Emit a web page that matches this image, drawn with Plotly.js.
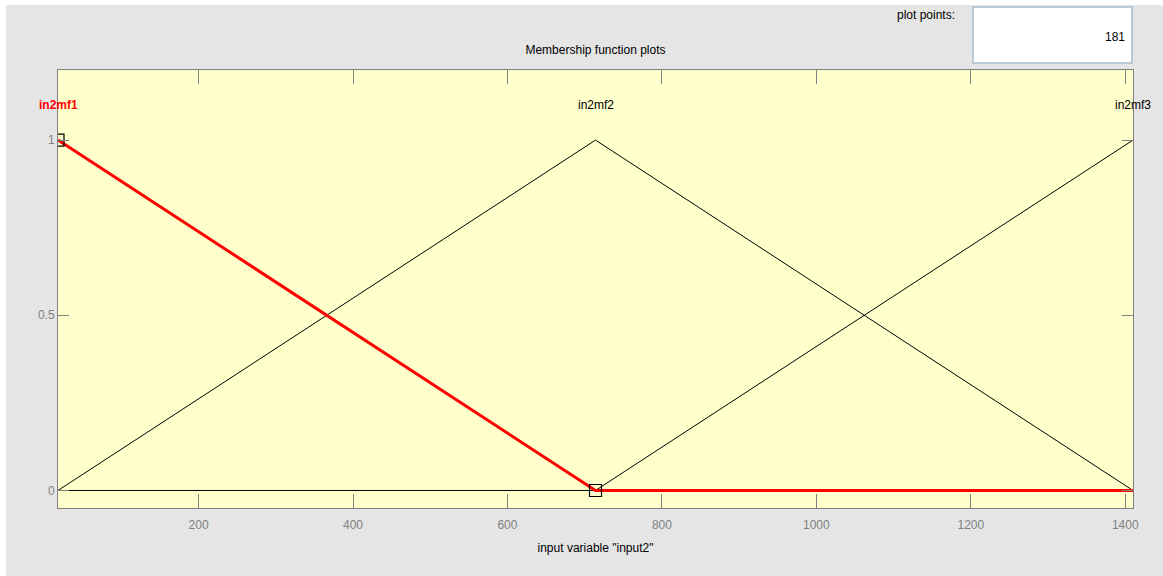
<!DOCTYPE html>
<html>
<head>
<meta charset="utf-8">
<script src="https://cdn.plot.ly/plotly-3.0.1.min.js"></script>
<style>
html,body{margin:0;padding:0;background:#ffffff;width:1163px;height:576px;overflow:hidden;}
#chart{position:absolute;left:6px;top:5px;width:1157px;height:571px;}
</style>
</head>
<body>
<div id="chart"></div>
<script>
// Data
const breakpoints = [18, 714, 1410];
const mfNames = ["in2mf1", "in2mf2", "in2mf3"];
const mf1 = [1, 0, 0];
const mf2 = [0, 1, 0];
const mf3 = [0, 0, 1];
const mfCenters = [18, 714, 1410];
const selectedParamX = [18, 714];
const selectedParamY = [1, 0];
const plotPoints = "181";
const xTicks = [200, 400, 600, 800, 1000, 1200, 1400];
const yTicks = [0, 0.5, 1];

const traces = [
  {x: breakpoints, y: mf2, mode: "lines", line: {color: "#000000", width: 1}, hoverinfo: "skip"},
  {x: breakpoints, y: mf3, mode: "lines", line: {color: "#000000", width: 1}, hoverinfo: "skip"},
  {x: breakpoints, y: mf1, mode: "lines", line: {color: "#ff0000", width: 3}, hoverinfo: "skip"},
  {x: selectedParamX, y: selectedParamY, mode: "markers",
   marker: {symbol: "square-open", size: 12, color: "#000000", line: {width: 1.2, color: "#000000"}},
   cliponaxis: true, hoverinfo: "skip"}
];

const annotations = mfNames.map((n, i) => ({
  x: mfCenters[i], y: 1.1, xref: "x", yref: "y", text: n, showarrow: false,
  font: {family: "Liberation Sans, Arial, sans-serif", size: 12, color: i === 0 ? "#ff0000" : "#000000", weight: i === 0 ? "bold" : "normal"},
  xanchor: "center", yanchor: "middle"
}));

annotations.push({
  xref: "paper", yref: "paper", x: 0, y: 0, text: "plot points:", showarrow: false,
  font: {family: "Liberation Sans, Arial, sans-serif", size: 12, color: "#000000"},
  xanchor: "right", yanchor: "middle"
});
annotations.push({
  xref: "paper", yref: "paper", x: 0, y: 0, text: plotPoints, showarrow: false,
  font: {family: "Liberation Sans, Arial, sans-serif", size: 12, color: "#000000"},
  xanchor: "right", yanchor: "middle"
});

// plot area: left 58, right 1133, top 70, bottom 508 (page px)
const L = 58 - 6, R = 1163 - 1133, T = 70 - 5, B = 576 - 508;
const plotW = 1157 - L - R, plotH = 571 - T - B;
function px2paperX(px){ return (px - 6 - L) / plotW; }
function px2paperY(py){ return 1 - (py - 5 - T) / plotH; }

annotations[3].x = px2paperX(957); annotations[3].y = px2paperY(15);
annotations[4].x = px2paperX(1127); annotations[4].y = px2paperY(37);

const layout = {
  width: 1157, height: 571,
  margin: {l: L, r: R, t: T, b: B},
  paper_bgcolor: "#e5e5e5",
  plot_bgcolor: "#ffffcc",
  showlegend: false,
  font: {family: "Liberation Sans, Arial, sans-serif", size: 12, color: "#808080"},
  title: {text: "Membership function plots", font: {size: 12, color: "#000000"},
          x: 0.5, xref: "paper", xanchor: "center", y: 1 - 45/571, yanchor: "middle"},
  xaxis: {
    range: [18, 1410], tickvals: xTicks, ticks: "inside", ticklen: 14, tickcolor: "#808080",
    tickwidth: 1, mirror: "ticks", showline: true, linecolor: "#808080", linewidth: 1,
    showgrid: false, zeroline: false, tickfont: {size: 12, color: "#808080"},
    ticklabelstandoff: 6,
    title: {text: 'input variable "input2"', font: {size: 12, color: "#000000"}, standoff: 12},
    fixedrange: true
  },
  yaxis: {
    range: [-0.05, 1.2], tickvals: yTicks, ticktext: ["0", "0.5", "1"], ticks: "inside", ticklen: 11,
    tickcolor: "#808080", tickwidth: 1, mirror: "ticks", showline: true, linecolor: "#808080",
    linewidth: 1, showgrid: false, zeroline: false, tickfont: {size: 12, color: "#808080"},
    fixedrange: true
  },
  annotations: annotations,
  shapes: [{
    type: "rect", xref: "paper", yref: "paper",
    x0: px2paperX(973), x1: px2paperX(1132), y0: px2paperY(63), y1: px2paperY(7),
    fillcolor: "#ffffff", line: {color: "#a8bcd0", width: 1.5}, layer: "above"
  }]
};

Plotly.newPlot("chart", traces, layout, {displayModeBar: false, staticPlot: true});
</script>
</body>
</html>
